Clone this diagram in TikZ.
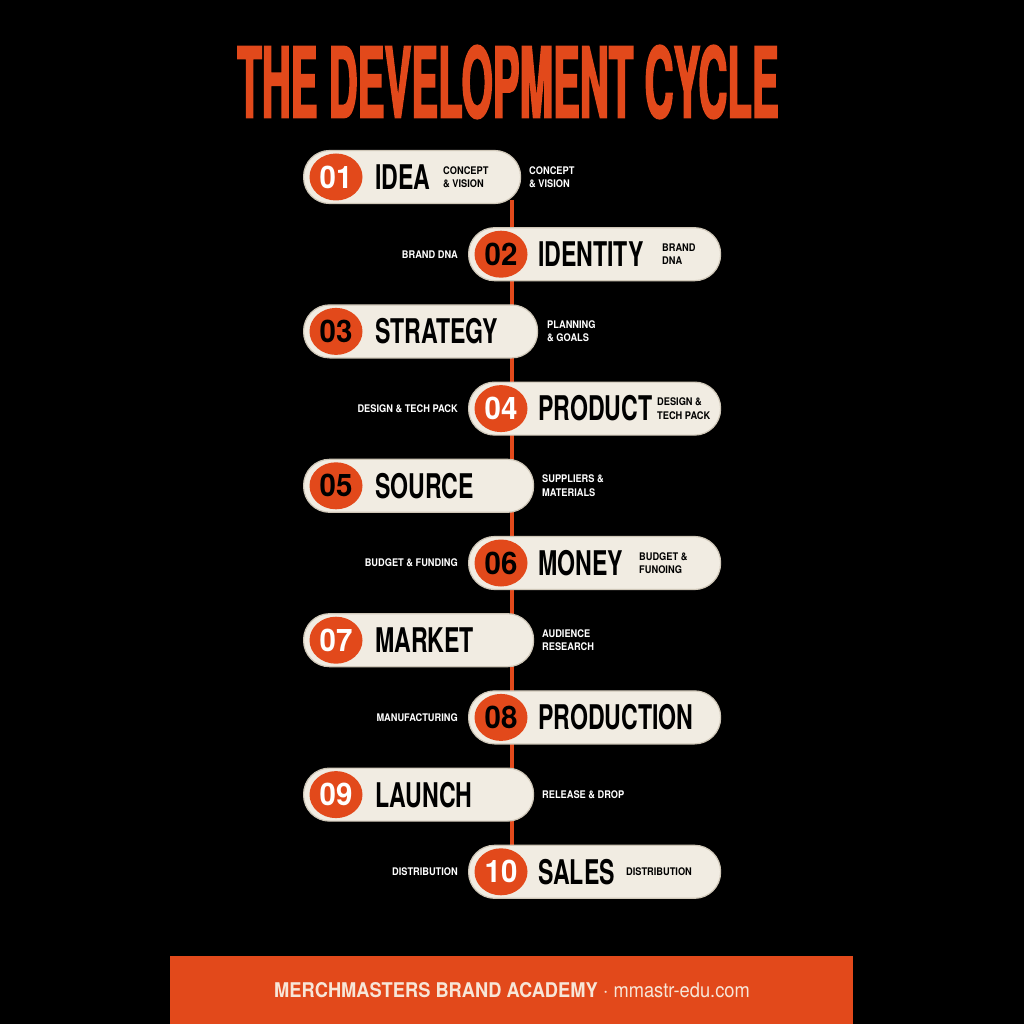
\documentclass[tikz,border=0pt]{standalone}
\usepackage{fontspec}
\setmainfont{TeX Gyre Heros}
\newfontfamily\titlefont[FakeStretch=0.41,FakeBold=1.5]{TeX Gyre Heros}
\newfontfamily\condfont[FakeStretch=0.68]{TeX Gyre Heros}
\newfontfamily\numfont[FakeStretch=0.95]{TeX Gyre Heros}
\newfontfamily\notefont[FakeStretch=0.88]{TeX Gyre Heros}
\newfontfamily\footfont[FakeStretch=0.9]{TeX Gyre Heros}
\usetikzlibrary{shapes.geometric, positioning}

\definecolor{brandorange}{HTML}{E2491B}
\definecolor{pillcream}{HTML}{F1ECE2}
\definecolor{pilledge}{HTML}{CFC7B8}
\definecolor{footcream}{HTML}{F7E6D8}

\tikzset{
    pill/.style={draw=pilledge, line width=1.2pt, fill=pillcream, rounded corners=26pt,
        minimum height=53pt, inner sep=0pt},
    numdisc/.style={ellipse, fill=brandorange, minimum width=53pt, minimum height=47pt,
        inner sep=0pt, font=\numfont\bfseries\fontsize{31}{31}\selectfont},
    steplabel/.style={anchor=west, inner sep=0pt, text=black,
        font=\condfont\bfseries\fontsize{34}{34}\selectfont},
    subnote/.style={align=left, inner sep=0pt,
        font=\notefont\bfseries\fontsize{10.5}{13.5}\selectfont},
}

\begin{document}
\begin{tikzpicture}[x=1pt, y=-1pt]
            \fill[black] (0,0) rectangle (1024,1024);
            \useasboundingbox (0,0) rectangle (1024,1024);

            \node[text=brandorange, inner sep=0pt, font=\titlefont\bfseries\fontsize{98}{98}\selectfont]
                (title) at (508,82) {THE DEVELOPMENT CYCLE};

            % spine behind the pills
            \coordinate (spinetop) at (512,200);
            \coordinate (spinebot) at (512,848);
            \draw[brandorange, line width=4pt] (spinetop) -- (spinebot);

            % odd steps, pill on the left
            \foreach \i/\nm/\numcol/\pw/\ox/\outer in {
                1/IDEA/white/217/529/{CONCEPT\\\& VISION},
                3/STRATEGY/black/234/547/{PLANNING\\\& GOALS},
                5/SOURCE/black/230/542/{SUPPLIERS \&\\MATERIALS},
                7/MARKET/white/230/542/{AUDIENCE\\RESEARCH},
                9/LAUNCH/white/230/542/{RELEASE \& DROP}} {
                \pgfmathsetmacro{\rowy}{177+(\i-1)*77.2}
                \node[pill, anchor=west, minimum width=\pw pt] (p\i) at (303,\rowy) {};
                \node[numdisc, text=\numcol] (n\i) at (336,\rowy) {0\i};
                \node[steplabel] (t\i) at (375,\rowy) {\nm};
                \node[subnote, anchor=west, text=white] (o\i) at (\ox,\rowy) {\outer};
            }

            % even steps, pill on the right
            \foreach \i/\nm/\numcol/\outer in {
                2/IDENTITY/black/{BRAND DNA},
                4/PRODUCT/white/{DESIGN \& TECH PACK},
                6/MONEY/black/{BUDGET \& FUNDING},
                8/PRODUCTION/black/{MANUFACTURING},
                10/SALES/white/{DISTRIBUTION}} {
                \pgfmathsetmacro{\rowy}{177+(\i-1)*77.2}
                \node[pill, anchor=west, minimum width=252pt] (p\i) at (468,\rowy) {};
                \node[numdisc, text=\numcol] (n\i) at (501,\rowy) {\ifnum\i<10 0\fi\i};
                \node[steplabel] (t\i) at (538,\rowy) {\nm};
                \node[subnote, anchor=east, text=white] (o\i) at (458,\rowy) {\outer};
            }

            % notes inside the pills
            \node[subnote, anchor=west] (s1) at (443,177) {CONCEPT\\\& VISION};
            \node[subnote, anchor=west] (s2) at (662,254.2) {BRAND\\DNA};
            \node[subnote, anchor=west] (s4) at (657,408.6) {DESIGN \&\\TECH PACK};
            \node[subnote, anchor=west] (s6) at (639,563) {BUDGET \&\\FUNOING};
            \node[subnote, anchor=west] (s10) at (626,871.8) {DISTRIBUTION};

            % footer band
            \fill[brandorange] (170,956) rectangle (853,1024);
            \node[text=footcream, inner sep=0pt, font=\footfont\fontsize{20.3}{20.3}\selectfont]
                (footer) at (512,990) {\textbf{MERCHMASTERS BRAND ACADEMY} $\cdot$ mmastr-edu.com};
\end{tikzpicture}
\end{document}
